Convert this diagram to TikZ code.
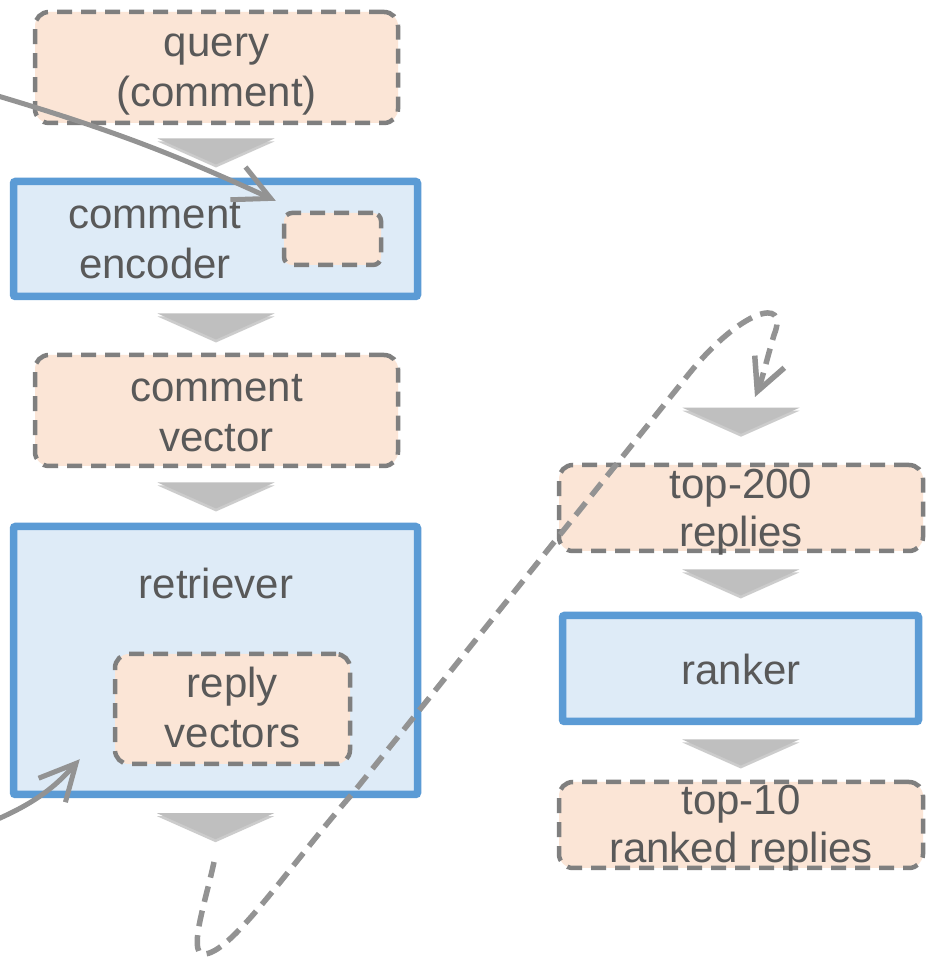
\documentclass[tikz,border=0pt]{standalone}
\usepackage{fontspec}
\setmainfont{Liberation Sans}
\usetikzlibrary{arrows.meta,shadows,calc}

\definecolor{peach}{HTML}{FBE5D6}
\definecolor{paleblue}{HTML}{DEEBF7}
\definecolor{edgeblue}{HTML}{5B9BD5}
\definecolor{dashgray}{HTML}{7F7F7F}
\definecolor{arrowgray}{HTML}{939393}
\definecolor{trigray}{HTML}{BFBFBF}
\definecolor{txtgray}{HTML}{595959}

\tikzset{
  dashbox/.style={draw=dashgray, fill=peach, line width=4.5pt, dash pattern=on 15pt off 9pt, rounded corners=14pt, inner sep=0pt},
  bluebox/.style={draw=edgeblue, fill=paleblue, line width=7.5pt, rounded corners=2pt, inner sep=0pt},
  boxtext/.style={text=txtgray, font=\fontsize{42}{50}\selectfont, inner sep=0pt},
  righttext/.style={boxtext, font=\fontsize{42}{48}\selectfont},
  blockarrow/.style={fill=trigray, drop shadow={shadow xshift=0pt, shadow yshift=-3pt, opacity=0.2, fill=black}},
  feed/.style={draw=arrowgray, line width=5pt, -{Straight Barb[length=36pt,width=36pt]}},
  jumpline/.style={draw=arrowgray, line width=5.5pt, dash pattern=on 16pt off 9pt, -{Straight Barb[length=32pt,width=32pt]}}
}

\begin{document}
\begin{tikzpicture}[x=1pt, y=1pt]
\path[use as bounding box, fill=white] (0,0) rectangle (930,960);

% left column
\node[dashbox, minimum width=363, minimum height=111] (query) at (216.5, 892.5) {};
\node[bluebox, minimum width=404, minimum height=115] (enc) at (215.5, 721) {};
\node[dashbox, rounded corners=8pt, minimum width=97, minimum height=52] (encslot) at (332.5, 721) {};
\node[dashbox, minimum width=363, minimum height=111] (cvec) at (216.5, 549.5) {};
\node[bluebox, minimum width=404, minimum height=268] (retr) at (215.5, 299.5) {};
\node[dashbox, minimum width=235, minimum height=110] (rv) at (232.5, 251) {};

% right column
\node[dashbox, minimum width=364, minimum height=86] (top200) at (741, 452) {};
\node[bluebox, minimum width=356, minimum height=106] (ranker) at (740.5, 291.5) {};
\node[dashbox, minimum width=364, minimum height=86] (top10) at (741, 135) {};

% block arrows
\foreach \a/\b in {query/enc, enc/cvec, cvec/retr, top200/ranker, ranker/top10}
  \fill[blockarrow] ($(\a.south)!.5!(\b.north)$) ++(-58.5,13) -- ++(117,0) -- ++(-58.5,-26) -- cycle;
\fill[blockarrow] ([yshift=-15pt]retr.south) ++(-58.5,0) -- ++(117,0) -- ++(-58.5,-26) -- cycle;
\fill[blockarrow] ([yshift=55pt]top200.north) ++(-58.5,0) -- ++(117,0) -- ++(-58.5,-26) -- cycle;

% texts
\node[boxtext] (query-t) at (216.5, 888) {\begin{tabular}{@{}c@{}}query\\(comment)\end{tabular}};
\node[boxtext] (enc-t) at (155, 716) {\begin{tabular}{@{}c@{}}comment\\encoder\end{tabular}};
\node[boxtext] (cvec-t) at (216.5, 543) {\begin{tabular}{@{}c@{}}comment\\vector\end{tabular}};
\node[boxtext, anchor=base] (retr-t) at (216, 361) {retriever};
\node[boxtext] (rv-t) at (232.5, 247.5) {\begin{tabular}{@{}c@{}}reply\\vectors\end{tabular}};
\node[righttext] (top200-t) at (741, 447) {\begin{tabular}{@{}c@{}}top-200\\replies\end{tabular}};
\node[righttext, anchor=base] (ranker-t) at (741, 275) {ranker};
\node[righttext] (top10-t) at (741, 131) {\begin{tabular}{@{}c@{}}top-10\\ranked replies\end{tabular}};

% incoming arrows
\coordinate (qin) at (-2, 864);
\coordinate (rin) at (-2, 141);
\draw[feed] (qin) to[bend left=4] ([shift={(-6,10)}]encslot.north west);
\draw[feed] (rin) to[bend right=12] ([shift={(-33,7)}]rv.south west);

% jump to the right column
\coordinate (jumpfrom) at (214, 98);
\coordinate (jumpto) at (755, 563);
\draw[jumpline] (jumpfrom) .. controls (206,60) and (188,8) .. (203,6)
  .. controls (230,4) and (290,95) .. (353,167) -- (688,585)
  .. controls (740,650) and (790,665) .. (774,625)
  .. controls (768,605) and (762,580) .. (jumpto);

\end{tikzpicture}
\end{document}
